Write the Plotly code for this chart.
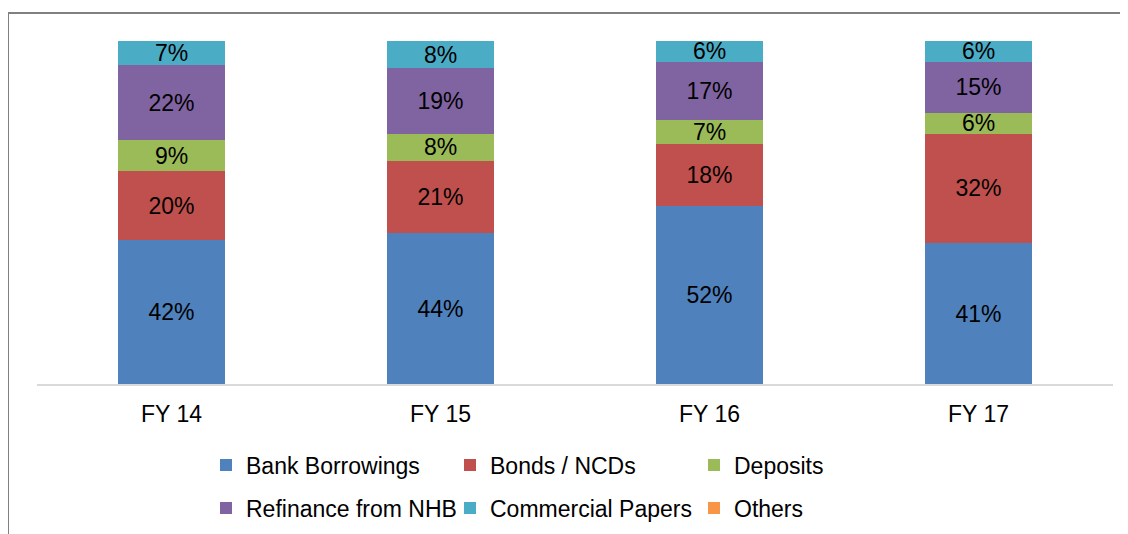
import plotly.graph_objects as go

categories = ["FY 14", "FY 15", "FY 16", "FY 17"]
bank_borrowings = [42, 44, 52, 41]
bonds_ncds = [20, 21, 18, 32]
deposits = [9, 8, 7, 6]
refinance_nhb = [22, 19, 17, 15]
commercial_papers = [7, 8, 6, 6]
others = [0, 0, 0, 0]

series = [
    ("Bank Borrowings", bank_borrowings, "#4F81BD", "legend"),
    ("Bonds / NCDs", bonds_ncds, "#C0504D", "legend"),
    ("Deposits", deposits, "#9BBB59", "legend"),
    ("Refinance from NHB", refinance_nhb, "#8064A2", "legend2"),
    ("Commercial Papers", commercial_papers, "#4BACC6", "legend2"),
    ("Others", others, "#F79646", "legend2"),
]

FONT = "Liberation Sans, Arial, sans-serif"
FS = 23

fig = go.Figure()
for name, vals, color, leg in series:
    texts = [f"{v}%" if v > 0 else "" for v in vals]
    fig.add_trace(go.Bar(
        x=categories, y=vals, name=name,
        marker=dict(color=color, line=dict(width=0)),
        text=texts, textposition="inside", insidetextanchor="middle",
        textangle=0, constraintext="none",
        textfont=dict(family=FONT, size=FS, color="#000000"),
        legend=leg, hoverinfo="skip",
    ))

# page is rendered with an 8px body offset; work in page pixels
OFF = 8
W, H = 1128, 534
L, R, T, B = 37 - OFF, 15 + OFF, 41 - OFF, 150 + OFF
pw, ph = W - L - R, H - T - B

def px2x(px):
    return (px - OFF - L) / pw

def py2y(py):
    return (H - B - (py - OFF)) / ph

fig.update_layout(
    width=W, height=H,
    margin=dict(l=L, r=R, t=T, b=B, pad=0, autoexpand=False),
    barmode="stack", bargap=0.6,
    plot_bgcolor="white", paper_bgcolor="white",
    font=dict(family=FONT, size=FS, color="#000000"),
    xaxis=dict(showgrid=False, showline=True, linecolor="#D9D9D9", linewidth=1.5,
               ticks="", tickfont=dict(size=FS, color="#000000"), ticklabelstandoff=9,
               fixedrange=True),
    yaxis=dict(range=[0, 100], visible=False, showgrid=False, fixedrange=True),
    legend=dict(orientation="h", x=px2x(206), xanchor="left", y=py2y(465), yanchor="middle",
                entrywidth=199, traceorder="normal", font=dict(size=FS, color="#000000"),
                bgcolor="rgba(0,0,0,0)", borderwidth=0, itemclick=False, itemdoubleclick=False),
    legend2=dict(orientation="h", x=px2x(206), xanchor="left", y=py2y(508), yanchor="middle",
                 entrywidth=199, traceorder="normal", font=dict(size=FS, color="#000000"),
                 bgcolor="rgba(0,0,0,0)", borderwidth=0, itemclick=False, itemdoubleclick=False),
    showlegend=True,
    shapes=[dict(type="path", xref="paper", yref="paper",
                 path=f"M {px2x(8)} {py2y(545)} L {px2x(8)} {py2y(13)} L {px2x(1140)} {py2y(13)}",
                 line=dict(color="#808080", width=2))],
)

fig.write_html("out.html")
